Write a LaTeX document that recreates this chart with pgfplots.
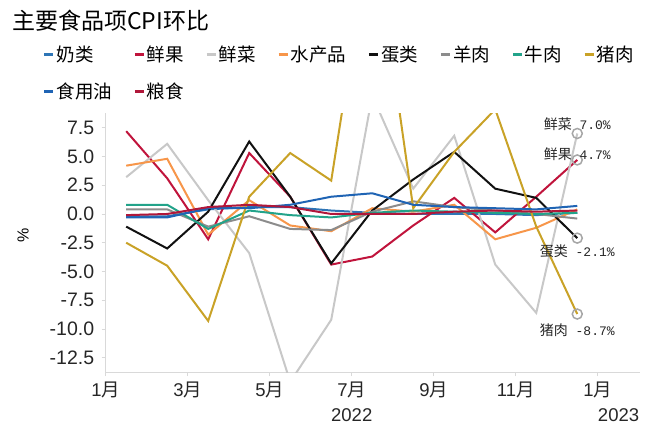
\documentclass[border=0pt]{standalone}
\usepackage{pgfplots}
\pgfplotsset{compat=1.18}
\usepackage{fontspec}
\setmainfont{Liberation Sans}
\newfontfamily\cjk{Noto Sans CJK SC}
\newfontfamily\mono{Liberation Mono}
\definecolor{cmilk}{HTML}{2E75B6}
\definecolor{cfruit}{HTML}{C0143C}
\definecolor{cveg}{HTML}{C8C8C8}
\definecolor{cfish}{HTML}{F7964A}
\definecolor{cegg}{HTML}{111111}
\definecolor{cmutton}{HTML}{8C8C8C}
\definecolor{cbeef}{HTML}{22A38A}
\definecolor{cpork}{HTML}{C9A227}
\definecolor{coil}{HTML}{1F64B4}
\definecolor{cgrain}{HTML}{B0173A}
\definecolor{axgray}{HTML}{D9D9D9}
\definecolor{circgray}{HTML}{A6A6A6}
\begin{document}
\begin{tikzpicture}
\useasboundingbox (0pt,0pt) rectangle (656pt,429pt);
\node[anchor=west, inner sep=0pt, font=\fontsize{23}{26}\selectfont] at (12pt,408pt) {\cjk 主要食品项CPI环比};
\node[rotate=90, font=\fontsize{16}{18}\selectfont] at (23pt,194pt) {\%};
\begin{axis}[
  at={(105.7pt,57pt)}, anchor=south west,
  width=534.3pt, height=259pt, scale only axis,
  xmin=1, xmax=14.03, ymin=-13.74, ymax=8.78,
  enlargelimits=false, clip mode=individual,
  axis x line*=bottom, axis y line*=left,
  axis line style={draw=axgray, line width=0.8pt},
  xtick={1,3,5,7,9,11,13},
  xticklabels={1{\cjk 月},3{\cjk 月},5{\cjk 月},7{\cjk 月},9{\cjk 月},11{\cjk 月},1{\cjk 月}},
  ytick={-12.5,-10,-7.5,-5,-2.5,0,2.5,5,7.5},
  yticklabel style={/pgf/number format/fixed, /pgf/number format/fixed zerofill, /pgf/number format/precision=1, xshift=-4pt, font=\fontsize{19.5}{21}\selectfont},
  /pgf/number format/assume math mode=true,
  tick label style={font=\fontsize{18.5}{20}\selectfont, text=black!85},
  xticklabel style={yshift=-2pt},
  tick style={draw=axgray, line width=0.8pt},
  major tick length=4pt,
  tick align=outside,
  legend columns=8,
  legend style={at={(-0.123,1.275)}, anchor=north west, draw=none, fill=none,
    font=\cjk\fontsize{18.5}{21}\selectfont, row sep=16pt,
    /tikz/every even column/.append style={column sep=19.5pt}},
  legend cell align=left,
  legend image code/.code={\draw[#1, line width=2.4pt] (0pt,0pt) -- (9pt,0pt);},
  every axis plot/.append style={line width=2pt, mark=none},
]
\addplot[cmilk] coordinates {(1.5,-0.2)(2.5,-0.2)(3.5,0.4)(4.5,0.6)(5.5,0.6)(6.5,0.3)(7.5,0.1)(8.5,0.0)(9.5,0.0)(10.5,0.0)(11.5,-0.1)(12.5,0.1)};
\addlegendentry{奶类}
\addplot[cfruit] coordinates {(1.5,7.2)(2.5,3.1)(3.5,-2.2)(4.5,5.3)(5.5,1.5)(6.5,-4.4)(7.5,-3.7)(8.5,-1.0)(9.5,1.4)(10.5,-1.6)(11.5,1.5)(12.5,4.7)};
\addlegendentry{鲜果}
\addplot[cveg] coordinates {(1.5,3.2)(2.5,6.1)(3.5,1.2)(4.5,-3.4)(5.5,-14.6)(6.5,-9.2)(7.5,10.3)(8.5,2.2)(9.5,6.8)(10.5,-4.4)(11.5,-8.6)(12.5,7.0)};
\addlegendentry{鲜菜}
\addplot[cfish] coordinates {(1.5,4.2)(2.5,4.8)(3.5,-1.8)(4.5,1.2)(5.5,-1.0)(6.5,-1.5)(7.5,0.5)(8.5,0.2)(9.5,0.8)(10.5,-2.2)(11.5,-1.2)(12.5,0.4)};
\addlegendentry{水产品}
\addplot[cegg] coordinates {(1.5,-1.1)(2.5,-3.0)(3.5,0.2)(4.5,6.3)(5.5,1.5)(6.5,-4.3)(7.5,0.3)(8.5,3.0)(9.5,5.4)(10.5,2.2)(11.5,1.4)(12.5,-2.1)};
\addlegendentry{蛋类}
\addplot[cmutton] coordinates {(1.5,0.4)(2.5,0.4)(3.5,-1.1)(4.5,-0.2)(5.5,-1.3)(6.5,-1.4)(7.5,0.2)(8.5,1.1)(9.5,0.6)(10.5,0.3)(11.5,0.0)(12.5,-0.4)};
\addlegendentry{羊肉}
\addplot[cbeef] coordinates {(1.5,0.8)(2.5,0.8)(3.5,-1.3)(4.5,0.3)(5.5,-0.1)(6.5,-0.3)(7.5,0.1)(8.5,0.3)(9.5,0.2)(10.5,0.1)(11.5,0.0)(12.5,0.1)};
\addlegendentry{牛肉}
\addplot[cpork] coordinates {(1.5,-2.5)(2.5,-4.5)(3.5,-9.3)(4.5,1.5)(5.5,5.3)(6.5,2.9)(7.5,25.6)(8.5,0.5)(9.5,5.4)(10.5,9.1)(11.5,-1.1)(12.5,-8.7)};
\addlegendentry{猪肉}
\addplot[coil] coordinates {(1.5,-0.3)(2.5,-0.3)(3.5,0.5)(4.5,0.5)(5.5,0.8)(6.5,1.5)(7.5,1.8)(8.5,0.8)(9.5,0.6)(10.5,0.5)(11.5,0.4)(12.5,0.7)};
\addlegendentry{食用油}
\addplot[cgrain] coordinates {(1.5,-0.1)(2.5,0.0)(3.5,0.6)(4.5,0.8)(5.5,0.6)(6.5,0.0)(7.5,0.0)(8.5,0.0)(9.5,0.2)(10.5,0.3)(11.5,0.2)(12.5,0.3)};
\addlegendentry{粮食}
\addplot[only marks, mark=o, mark size=5pt, draw=circgray, line width=1.5pt, forget plot] coordinates {(12.5,7.0)(12.5,4.7)(12.5,-2.1)(12.5,-8.7)};
\node[font=\fontsize{14}{16}\selectfont, text=black!85] at (axis cs:12.5,7.0) [yshift=9pt] {\cjk 鲜菜\mono\fontsize{13}{16}\selectfont\ 7.0\%};
\node[font=\fontsize{14}{16}\selectfont, text=black!85] at (axis cs:12.5,4.7) [yshift=6pt] {\cjk 鲜果\mono\fontsize{13}{16}\selectfont\ 4.7\%};
\node[font=\fontsize{14}{16}\selectfont, text=black!85] at (axis cs:12.5,-2.1) [yshift=-13pt] {\cjk 蛋类\mono\fontsize{13}{16}\selectfont\ -2.1\%};
\node[font=\fontsize{14}{16}\selectfont, text=black!85] at (axis cs:12.5,-8.7) [yshift=-16pt] {\cjk 猪肉\mono\fontsize{13}{16}\selectfont\ -8.7\%};
\node[font=\fontsize{18.5}{20}\selectfont, text=black!85] at (axis cs:7,-13.74) [yshift=-43pt] {2022};
\node[anchor=west, inner sep=0pt, font=\fontsize{18.5}{20}\selectfont, text=black!85] at (axis cs:13,-13.74) [yshift=-43pt] {2023};
\end{axis}
\end{tikzpicture}
\end{document}
